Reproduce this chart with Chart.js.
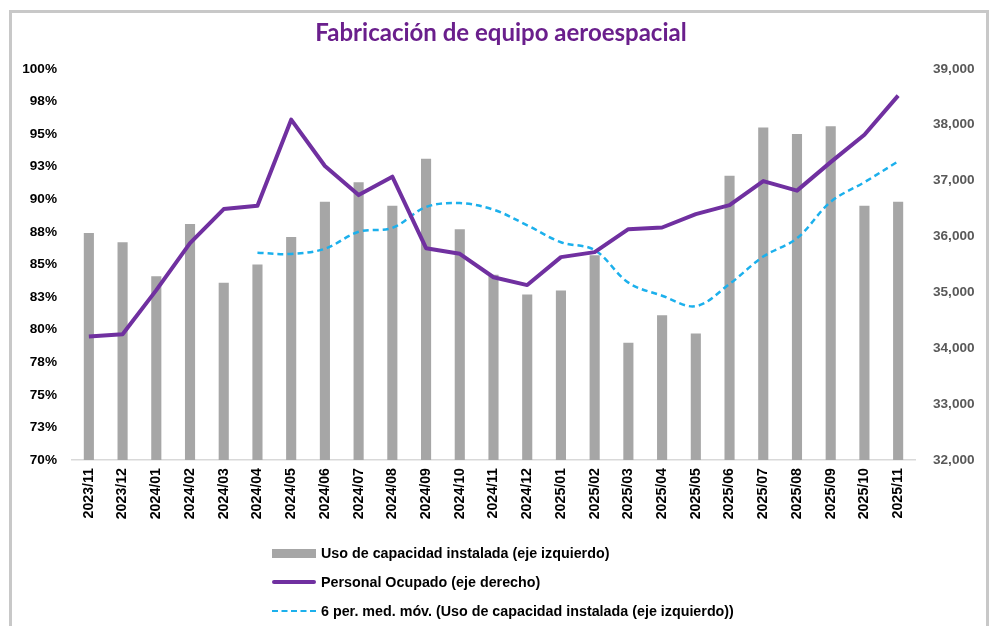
<!DOCTYPE html>
<html>
<head>
<meta charset="utf-8">
<script src="https://cdn.jsdelivr.net/npm/chart.js@4.4.1/dist/chart.umd.min.js"></script>
<style>
  html, body { margin: 0; padding: 0; background: #fff; }
  body { width: 992px; height: 626px; position: relative; overflow: hidden; }
  #frame { position: absolute; left: 9px; top: 10px; width: 980px; height: 700px; border: 3px solid #c8c8c8; box-sizing: border-box; }
  #wrap { position: absolute; left: 0; top: 0; width: 992px; height: 626px; }
  #legend { position: absolute; left: 272px; top: 539px; font-family: "Liberation Sans", Arial, sans-serif; font-weight: bold; font-size: 14.3px; color: #000; }
  .item { display: flex; align-items: center; height: 28.7px; }
  .sw { width: 44px; margin-right: 5px; box-sizing: border-box; }
</style>
</head>
<body>
<div id="frame"></div>
<div id="wrap"><canvas id="c" width="992" height="626"></canvas></div>
<div id="legend"></div>
<script>
const categories = ["2023/11","2023/12","2024/01","2024/02","2024/03","2024/04","2024/05","2024/06","2024/07","2024/08","2024/09","2024/10","2024/11","2024/12","2025/01","2025/02","2025/03","2025/04","2025/05","2025/06","2025/07","2025/08","2025/09","2025/10","2025/11"];
const capacityUse = [87.4, 86.7, 84.1, 88.1, 83.6, 85.0, 87.1, 89.8, 91.3, 89.5, 93.1, 87.7, 84.2, 82.7, 83.0, 85.7, 79.0, 81.1, 79.7, 91.8, 95.5, 95.0, 95.6, 89.5, 89.8];
const employedPersonnel = [34210, 34250, 35040, 35880, 36490, 36550, 38090, 37260, 36740, 37070, 35790, 35690, 35270, 35130, 35630, 35720, 36130, 36160, 36400, 36560, 36990, 36820, 37330, 37820, 38520];
const movingAvg6 = [null, null, null, null, null, 85.9, 85.8, 86.2, 87.5, 87.8, 89.4, 89.7, 89.2, 88.0, 86.7, 86.1, 83.6, 82.6, 81.8, 83.5, 85.6, 87.0, 89.8, 91.3, 92.9];
const leftTicks = {min: 70, max: 100, step: 2.5};
const rightTicks = {min: 32000, max: 39000, step: 1000};
const seriesLabels = ["Uso de capacidad instalada (eje izquierdo)", "Personal Ocupado (eje derecho)", "6 per. med. móv. (Uso de capacidad instalada (eje izquierdo))"];
const titleText = "Fabricación de equipo aeroespacial";

const tickFont = {family: "'Liberation Sans', Arial, sans-serif", size: 13.6, weight: 'bold'};
const xTickFont = {family: "'Liberation Sans', Arial, sans-serif", size: 14.2, weight: 'bold'};

const chart = new Chart(document.getElementById('c'), {
  type: 'bar',
  data: {
    labels: categories,
    datasets: [
      {type: 'bar', label: seriesLabels[0], data: capacityUse, yAxisID: 'y', backgroundColor: '#a6a6a6', barPercentage: 0.3, categoryPercentage: 1, order: 3},
      {type: 'line', label: seriesLabels[1], data: employedPersonnel, yAxisID: 'y1', borderColor: '#7030a0', borderWidth: 4, pointRadius: 0, tension: 0, order: 1, borderJoinStyle: 'round'},
      {type: 'line', label: seriesLabels[2], data: movingAvg6, yAxisID: 'y', borderColor: '#1cb0ec', borderWidth: 2.5, borderDash: [6, 4], pointRadius: 0, tension: 0.35, order: 2, spanGaps: false}
    ]
  },
  options: {
    responsive: false,
    animation: false,
    layout: {padding: {top: 0, bottom: 0, left: 10, right: 0}},
    plugins: {
      legend: {display: false},
      tooltip: {enabled: false},
      title: {display: true, text: titleText, color: '#6a1f8c', font: {family: "Lato, 'Open Sans', sans-serif", size: 24, weight: 'bold'}, padding: {top: 19, bottom: 21}}
    },
    scales: {
      x: {
        grid: {display: false, drawTicks: false},
        border: {display: true, color: '#d9d9d9', width: 1.5},
        ticks: {color: '#000', font: xTickFont, minRotation: 90, maxRotation: 90, autoSkip: false, padding: 8},
        afterFit: s => { s.height = 626 - 460; }
      },
      y: {
        position: 'left', min: leftTicks.min, max: leftTicks.max,
        grid: {display: false, drawTicks: false},
        border: {display: false},
        ticks: {stepSize: leftTicks.step, color: '#000', font: tickFont, padding: 15, callback: v => Math.round(v) + '%'},
        afterFit: s => { s.width = 62; }
      },
      y1: {
        position: 'right', min: rightTicks.min, max: rightTicks.max,
        grid: {display: false, drawTicks: false},
        border: {display: false},
        ticks: {stepSize: rightTicks.step, color: '#595959', font: tickFont, padding: 18, callback: v => v.toLocaleString('en-US')},
        afterFit: s => { s.width = 77; }
      }
    }
  }
});

// HTML legend built from datasets
const lg = document.getElementById('legend');
chart.data.datasets.forEach((ds, i) => {
  const it = document.createElement('div'); it.className = 'item';
  const sw = document.createElement('div'); sw.className = 'sw';
  if (ds.type === 'bar') { sw.style.height = '9px'; sw.style.background = ds.backgroundColor; }
  else if (ds.borderDash) { sw.style.height = '0'; sw.style.borderTop = '2.5px dashed ' + ds.borderColor; }
  else { sw.style.height = '4px'; sw.style.background = ds.borderColor; sw.style.borderRadius = '2px'; }
  const tx = document.createElement('span'); tx.textContent = ds.label;
  it.appendChild(sw); it.appendChild(tx); lg.appendChild(it);
});
</script>
</body>
</html>
